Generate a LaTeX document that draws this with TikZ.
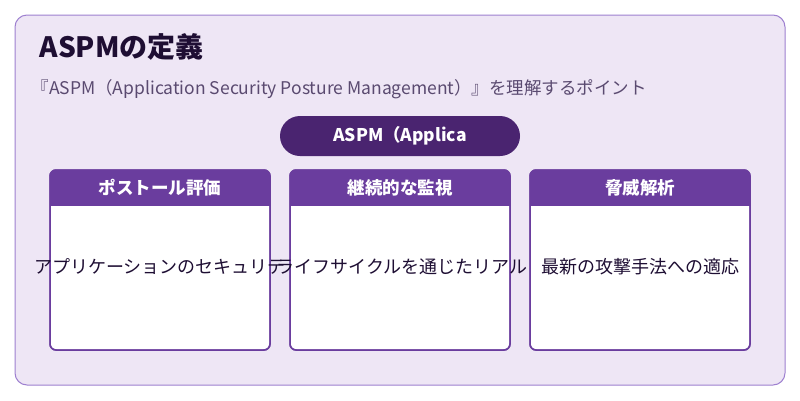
\documentclass[tikz,border=0pt]{standalone}
\usepackage{fontspec}
\setmainfont{Noto Sans CJK JP}
\usetikzlibrary{positioning}
\definecolor{bgpurple}{HTML}{EEE6F5}
\definecolor{edgepurple}{HTML}{9E80D0}
\definecolor{darkpurple}{HTML}{4A2470}
\definecolor{headpurple}{HTML}{6A3D9E}
\definecolor{subgrey}{HTML}{5A4A70}
\definecolor{titleink}{HTML}{1E0E33}
\tikzset{
    cardbody/.style={draw=headpurple, line width=1.5pt, fill=white, rounded corners=6pt},
    headtext/.style={text=white, font=\fontsize{17.5}{20}\selectfont\bfseries},
    bodytext/.style={text=titleink, font=\fontsize{18}{21}\selectfont}}
\begin{document}
\begin{tikzpicture}[x=1pt, y=-1pt]
\useasboundingbox (0,0) rectangle (800,400);
\fill[white] (0,0) rectangle (800,400);
\draw[edgepurple, fill=bgpurple, line width=1pt, rounded corners=12pt] (15,15) rectangle (785,385);
\node[anchor=west, text=titleink, font=\fontsize{28}{32}\selectfont\bfseries] (title) at (36,47) {ASPMの定義};
\node[anchor=west, text=subgrey, font=\fontsize{17.5}{20}\selectfont] (subtitle) at (28,89) {『ASPM（Application Security Posture Management）』を理解するポイント};
\fill[darkpurple, rounded corners=20pt] (280,116) rectangle (520,156);
\node[headtext] (pill) at (400,136) {ASPM（Applica};
% cards
\foreach \x/\name/\head in {50/posture/ポストール評価, 290/monitor/継続的な監視, 530/threat/脅威解析} {
    \draw[cardbody] (\x,170) rectangle ++(220,180);
    \begin{scope}
        \clip[rounded corners=6pt] (\x,170) rectangle ++(220,180);
        \fill[headpurple] (\x,170) rectangle ++(220,36);
    \end{scope}
    \draw[headpurple, line width=1.5pt, rounded corners=6pt] (\x,170) rectangle ++(220,180);
    \node[headtext] (\name) at (\x+110,188) {\head};
}
\node[bodytext] (posturetext) at (160,267) {アプリケーションのセキュリテ};
\node[bodytext] (monitortext) at (402,267) {ライフサイクルを通じたリアル};
\node[bodytext] (threattext) at (640,267) {最新の攻撃手法への適応};
\end{tikzpicture}
\end{document}
